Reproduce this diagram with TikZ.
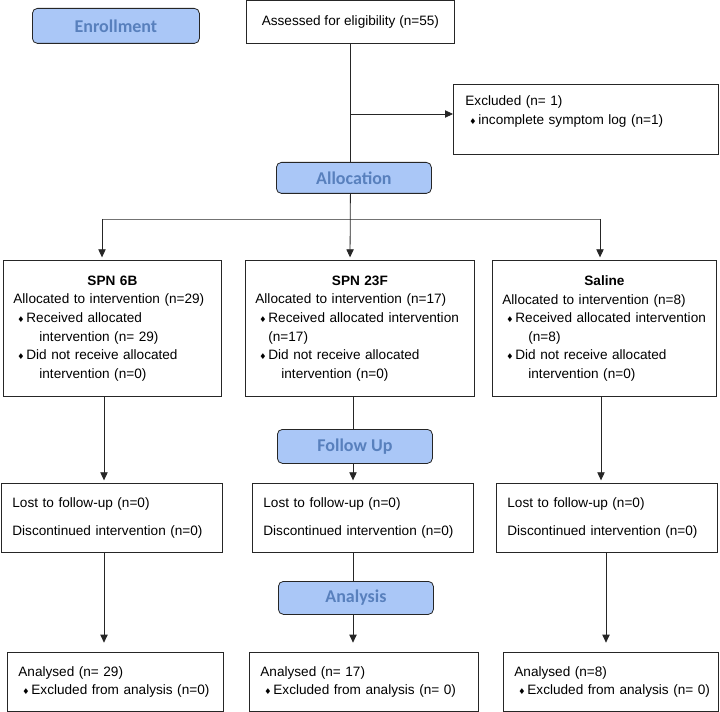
\documentclass[tikz,border=0pt]{standalone}
\usepackage{fontspec}
\setmainfont{Liberation Sans}
\newfontfamily\hdfont{Carlito}
\newfontfamily\symfont{DejaVu Sans}
\usepackage{xcolor}
\usepackage{tikz}
\usetikzlibrary{arrows.meta,positioning}
\definecolor{phasefill}{RGB}{170,199,247}
\definecolor{phasetext}{RGB}{88,128,189}
\newcommand{\dia}{{\symfont\fontsize{6}{6}\selectfont ♦}}
\newcommand{\itm}{\hspace*{3pt}\makebox[6.75pt][l]{\dia}}
\newcommand{\cnt}{\hspace*{19.5pt}}

\begin{document}
\begin{tikzpicture}[x=0.75pt,y=-0.75pt,line width=0.6pt,
    phase/.style={draw=black!85, fill=phasefill, rounded corners=3.75pt, anchor=north west,
        inner sep=0pt, text=phasetext, font=\hdfont\bfseries\fontsize{13.5}{16}\selectfont},
    box/.style={draw=black!85, anchor=north west, align=left, inner xsep=7.5pt, inner ysep=0pt,
        font=\fontsize{10.2}{13.9}\selectfont},
    arr/.style={draw=black!85, -{Triangle[width=5.5pt,length=6pt]}, shorten >=2pt}]
    \useasboundingbox (0,0) rectangle (720,712);
    \node[phase, minimum width=125.25pt, minimum height=26.25pt] (enroll) at (32,8) {Enrollment};
    \node[box, minimum width=156pt, minimum height=31.9pt] (assess) at (246,0.5) {Assessed for eligibility (n=55)};
    \node[box, inner xsep=9pt, text width=180.75pt, minimum height=52.5pt] (excl) at (453,84)
        {Excluded (n= 1)\\ \mbox{\itm incomplete symptom log (n=1)}\\ \mbox{}};
    \node[phase, minimum width=116.25pt, minimum height=23.25pt] (alloc) at (276,162) {Allocation};
    \node[box, text width=148.5pt, minimum height=102pt] (sp6) at (3,260)
        {\makebox[\linewidth]{\bfseries SPN 6B}\\
         Allocated to intervention (n=29)\\
         \itm Received allocated\\
         \cnt intervention (n= 29)\\
         \itm Did not receive allocated\\
         \cnt intervention (n=0)};
    \node[box, text width=156.75pt, minimum height=102pt] (sp23) at (245,260)
        {\makebox[\linewidth]{\bfseries SPN 23F}\\
         Allocated to intervention (n=17)\\
         \mbox{\itm Received allocated intervention}\\
         \hspace*{9.75pt}(n=17)\\
         \itm Did not receive allocated\\
         \cnt intervention (n=0)};
    \node[box, text width=153pt, minimum height=102pt] (sal) at (492,260)
        {\makebox[\linewidth]{\bfseries Saline}\\
         Allocated to intervention (n=8)\\
         \mbox{\itm Received allocated intervention}\\
         \cnt (n=8)\\
         \itm Did not receive allocated\\
         \cnt intervention (n=0)};
    \node[phase, minimum width=116.25pt, minimum height=25.5pt] (fuhead) at (277,429) {Follow Up};
    \node[box, inner xsep=8.25pt, text width=149.25pt, minimum height=51.75pt] (fu6) at (1,483)
        {Lost to follow-up (n=0)\\[7pt] \mbox{Discontinued intervention (n=0)}};
    \node[box, inner xsep=8.25pt, text width=149.25pt, minimum height=51.75pt] (fu23) at (252,483)
        {Lost to follow-up (n=0)\\[7pt] \mbox{Discontinued intervention (n=0)}};
    \node[box, inner xsep=8.25pt, text width=149.25pt, minimum height=51.75pt] (fusal) at (496,483)
        {Lost to follow-up (n=0)\\[7pt] \mbox{Discontinued intervention (n=0)}};
    \node[phase, minimum width=116.25pt, minimum height=24.75pt] (anhead) at (278,581) {Analysis};
    \node[box, inner xsep=8.25pt, text width=145.5pt, minimum height=44.25pt] (an6) at (7,652)
        {Analysed (n= 29)\\ \mbox{\itm Excluded from analysis (n=0)}};
    \node[box, inner xsep=8.25pt, text width=155.25pt, minimum height=44.25pt] (an23) at (249,652)
        {Analysed (n= 17)\\ \mbox{\itm Excluded from analysis (n= 0)}};
    \node[box, inner xsep=8.25pt, text width=144.75pt, minimum height=44.25pt] (ansal) at (503,652)
        {Analysed (n=8)\\ \mbox{\itm Excluded from analysis (n= 0)}};
    \coordinate (exc) at (350,114);
    \coordinate (splitA) at (102,219);
    \coordinate (splitB) at (350,219);
    \coordinate (splitC) at (600,219);
    \coordinate (colA) at (104,0);
    \coordinate (colB) at (353,0);
    \coordinate (colC) at (601,0);
    \coordinate (colD) at (606,0);
    \draw[black!85] (assess.south) -- (assess.south |- alloc.north);
    \draw[arr, shorten >=0pt] (exc) -- (exc -| excl.west);
    \draw[black!55] (splitA) -- (splitC);
    \draw[arr] (assess.south |- alloc.south) -- (splitB |- sp23.north);
    \draw[arr] (splitA) -- (splitA |- sp6.north);
    \draw[arr] (splitC) -- (splitC |- sal.north);
    \draw[arr] (colA |- sp6.south) -- (colA |- fu6.north);
    \draw[arr, shorten >=7pt] (colA |- fu6.south) -- (colA |- an6.north);
    \draw[black!85] (colB |- sp23.south) -- (colB |- fuhead.north);
    \draw[arr] (colB |- fuhead.south) -- (colB |- fu23.north);
    \draw[black!85] (colB |- fu23.south) -- (colB |- anhead.north);
    \draw[arr, shorten >=7pt] (colB |- anhead.south) -- (colB |- an23.north);
    \draw[arr] (colC |- sal.south) -- (colC |- fusal.north);
    \draw[arr, shorten >=7pt] (colD |- fusal.south) -- (colD |- ansal.north);
\end{tikzpicture}
\end{document}
